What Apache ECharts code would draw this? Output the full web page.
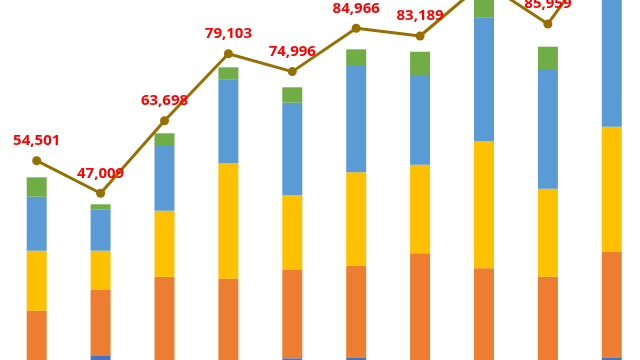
<!DOCTYPE html>
<html>
<head>
<meta charset="utf-8">
<script src="https://cdn.jsdelivr.net/npm/echarts@6/dist/echarts.min.js"></script>
<style>
  html, body { margin: 0; padding: 0; background: #ffffff; overflow: hidden; width: 640px; height: 360px; }
  #chart { position: absolute; left: 0; top: -124px; width: 644px; height: 522px; }
</style>
</head>
<body>
<div id="chart"></div>
<script>
// Categories (labels not visible in the cropped reference)
const categories = ['1', '2', '3', '4', '5', '6', '7', '8', '9', '10'];

// Stacked bar series, bottom to top
const seriesDarkBlue = [8000, 9570, 8000, 8000, 9041, 9271, 8000, 8000, 8000, 9271];
const seriesOrange   = [11991, 15183, 19813, 19353, 20313, 21073, 25196, 21745, 19813, 24224];
const seriesYellow   = [13803, 9041, 15183, 26548, 17185, 21486, 20383, 29217, 20244, 28825];
const seriesBlue     = [12423, 9524, 14885, 19324, 21303, 24455, 20635, 28526, 27307, 36680];
const seriesGreen    = [4463, 1151, 2921, 2761, 3543, 3841, 5360, 4512, 5361, 3500];

// Line series (totals with labels)
const lineTotals = [54501, 47009, 63698, 79103, 74996, 84966, 83189, 95612, 85959, 106388];

const chart = echarts.init(document.getElementById('chart'), null, { renderer: 'canvas' });

function barSeries(name, data, color) {
  return {
    name: name,
    type: 'bar',
    stack: 'total',
    barWidth: 20,
    data: data,
    itemStyle: { color: color },
    emphasis: { disabled: true }
  };
}

chart.setOption({
  animation: false,
  backgroundColor: '#ffffff',
  grid: { left: 4.75, width: 639, top: 0, height: 521.6 },
  xAxis: {
    type: 'category',
    data: categories,
    boundaryGap: true,
    axisLine: { show: false },
    axisTick: { show: false },
    axisLabel: { show: false },
    splitLine: { show: false }
  },
  yAxis: {
    type: 'value',
    min: 0,
    max: 120000,
    show: false,
    splitLine: { show: false }
  },
  series: [
    barSeries('S1', seriesDarkBlue, '#4472C4'),
    barSeries('S2', seriesOrange, '#ED7D31'),
    barSeries('S3', seriesYellow, '#FFC000'),
    barSeries('S4', seriesBlue, '#5B9BD5'),
    barSeries('S5', seriesGreen, '#70AD47'),
    {
      name: 'Total',
      type: 'line',
      data: lineTotals,
      symbol: 'circle',
      symbolSize: 9,
      lineStyle: { color: '#967000', width: 3 },
      itemStyle: { color: '#967000' },
      label: {
        show: true,
        position: 'top',
        distance: 8,
        color: '#FF0000',
        fontSize: 15,
        fontWeight: 'bold',
        fontFamily: 'Noto Sans',
        formatter: function (p) { return p.value.toLocaleString('en-US'); }
      },
      z: 10
    }
  ]
});
</script>
</body>
</html>
